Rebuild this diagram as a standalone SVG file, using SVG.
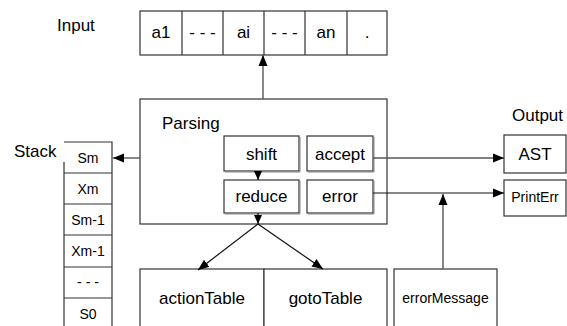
<svg xmlns="http://www.w3.org/2000/svg" width="567" height="326" viewBox="0 0 567 326">
<style>
text{font-family:"Liberation Sans",Arial,sans-serif;fill:#000;text-anchor:middle}
.box{fill:#fff;stroke:#333;stroke-width:1.2}
.lbl{text-anchor:start}
.c{stroke:#555;stroke-width:1.4;fill:none}
.k{stroke:#111;stroke-width:1.2;fill:none}
.sh{fill:none;stroke:#888;stroke-width:1}
</style>
<defs>
<marker id="ah" markerUnits="userSpaceOnUse" markerWidth="12" markerHeight="10" refX="11" refY="5" orient="auto">
<path d="M0,0.5 L11,5 L0,9.5 z" fill="#000"/>
</marker>
<marker id="as" markerUnits="userSpaceOnUse" markerWidth="10" markerHeight="8" refX="9" refY="4" orient="auto">
<path d="M0,0 L9,4 L0,8 z" fill="#000"/>
</marker>
</defs>
<rect width="567" height="326" fill="#fff"/>

<g id="input">
<text class="lbl" x="57" y="31" font-size="17">Input</text>
<rect class="box" x="140" y="11" width="247" height="44"/>
<path d="M182,11V55M223,11V55M264,11V55M305,11V55M347,11V55" stroke="#333" stroke-width="1.2"/>
<text x="161" y="38" font-size="17">a1</text>
<text x="202.5" y="38" font-size="17">- - -</text>
<text x="243.5" y="38" font-size="17">ai</text>
<text x="284.5" y="38" font-size="17">- - -</text>
<text x="326" y="38" font-size="17">an</text>
<text x="367" y="38" font-size="17">.</text>
</g>

<g id="parsing">
<rect class="box" x="140" y="99" width="247" height="125"/>
<text class="lbl" x="162" y="129" font-size="17">Parsing</text>
</g>
<g id="shift">
<rect class="box" x="224" y="136" width="75" height="35"/>
<path class="sh" d="M300,137V172H225"/>
<text x="261.5" y="159.5" font-size="17">shift</text>
</g>
<g id="accept">
<rect class="box" x="307" y="136" width="66" height="35"/>
<path class="sh" d="M374,137V172H308"/>
<text x="340" y="159.5" font-size="17">accept</text>
</g>
<g id="reduce">
<rect class="box" x="224" y="180" width="75" height="33"/>
<path class="sh" d="M300,181V214H225"/>
<text x="261.5" y="202" font-size="17">reduce</text>
</g>
<g id="error">
<rect class="box" x="307" y="180" width="66" height="33"/>
<path class="sh" d="M374,181V214H308"/>
<text x="340" y="202" font-size="17">error</text>
</g>

<g id="stack">
<text class="lbl" x="14" y="157" font-size="17">Stack</text>
<path d="M64,162V330M64,142H112V330" fill="none" stroke="#333" stroke-width="1.2"/>
<path d="M64,173H112M64,204H112M64,235H112M64,267H112M64,298H112" stroke="#333" stroke-width="1.2"/>
<text x="88" y="163" font-size="14">Sm</text>
<text x="88" y="194" font-size="14">Xm</text>
<text x="88" y="225" font-size="14">Sm-1</text>
<text x="88" y="256" font-size="14">Xm-1</text>
<text x="88" y="287" font-size="14">- - -</text>
<text x="88" y="319" font-size="14">S0</text>
</g>

<g id="output">
<text class="lbl" x="512" y="121" font-size="17">Output</text>
</g>
<g id="ast">
<rect class="box" x="504" y="135" width="62" height="38"/>
<text x="535" y="160" font-size="17">AST</text>
</g>
<g id="printerr">
<rect class="box" x="504" y="180" width="62" height="36"/>
<text x="535" y="202" font-size="14">PrintErr</text>
</g>

<g id="actionTable">
<rect class="box" x="140" y="269" width="124" height="70"/>
<text x="202" y="304" font-size="17">actionTable</text>
</g>
<g id="gotoTable">
<rect class="box" x="264" y="269" width="123" height="70"/>
<text x="325.5" y="304" font-size="17">gotoTable</text>
</g>
<g id="errorMessage">
<rect class="box" x="394" y="269" width="103" height="70"/>
<text x="445.5" y="303" font-size="14">errorMessage</text>
</g>

<g id="connectors">
<line class="c" x1="263" y1="99" x2="263" y2="55" marker-end="url(#ah)"/>
<line class="c" x1="140" y1="158" x2="113" y2="158" marker-end="url(#ah)"/>
<line class="k" x1="258" y1="171" x2="258" y2="180" marker-end="url(#as)"/>
<line class="k" x1="258" y1="213" x2="258" y2="224" marker-end="url(#as)"/>
<line class="k" x1="258" y1="224" x2="198" y2="270" marker-end="url(#ah)"/>
<line class="k" x1="258" y1="224" x2="323" y2="269" marker-end="url(#ah)"/>
<line class="c" x1="373" y1="158" x2="504" y2="158" marker-end="url(#ah)"/>
<line class="k" x1="373" y1="193" x2="504" y2="193" marker-end="url(#ah)"/>
<line class="c" x1="443" y1="269" x2="443" y2="194" marker-end="url(#ah)"/>
</g>
</svg>
